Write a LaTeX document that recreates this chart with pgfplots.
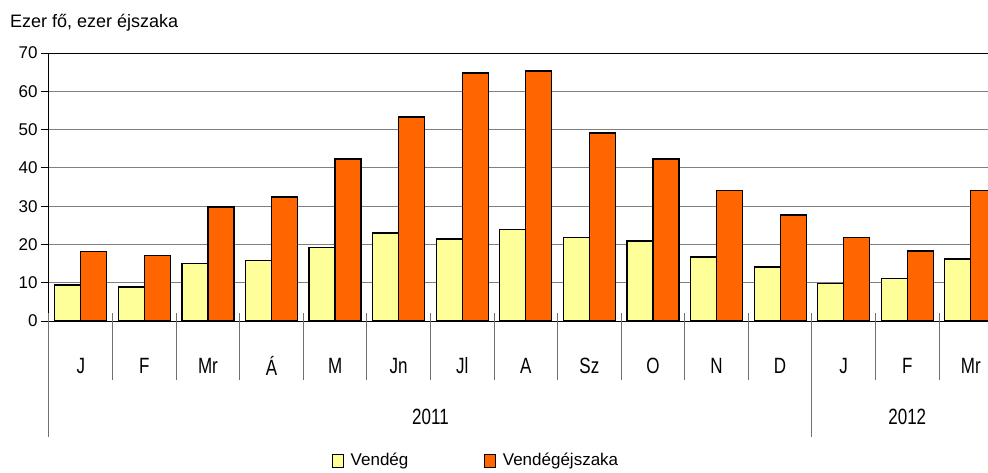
\documentclass[border=0pt]{standalone}
\usepackage{fontspec}
\setmainfont{Liberation Sans}
\usepackage{pgfplots}
\pgfplotsset{compat=1.18}
\definecolor{vyellow}{HTML}{FFFF99}
\definecolor{vorange}{HTML}{FF6600}
\definecolor{sepgray}{HTML}{707070}
\newcommand\lf{\fontsize{17}{20}\selectfont}
\newcommand\sx[1]{\scalebox{1}[1.3]{#1}}
\begin{document}
\begin{tikzpicture}
\begin{axis}[
  scale only axis, width=939pt, height=268pt,
  xmin=-0.5, xmax=14.27, ymin=0, ymax=70,
  ybar=0pt, bar width=26pt,
  axis lines*=left, axis line style={black, line width=1pt},
  clip mode=individual,
  ytick={0,10,...,70}, ymajorgrids, grid style={gray, line width=0.8pt},
  tick align=outside, major tick length=8pt, tick style={black, line width=1pt},
  xtick={0,...,14}, xtick style={draw=none},
  xticklabels={\sx{J},\sx{F},\sx{Mr},\sx{Á},\sx{M},\sx{Jn},\sx{Jl},\sx{A},\sx{Sz},\sx{O},\sx{N},\sx{D},\sx{J},\sx{F},\sx{Mr}},
  xticklabel style={anchor=center, yshift=-37pt, font=\lf},
  yticklabel style={font=\lf},
  /pgf/number format/assume math mode=true,
  legend style={draw=none, fill=none, at={(axis description cs:0,0)}, anchor=north west,
    xshift=280pt, yshift=-128pt, legend columns=2, font=\lf,
    /tikz/every even column/.append style={column sep=74pt}},
  legend cell align=left,
  legend image code/.code={\draw[#1, line width=1pt] (0pt,-7pt) rectangle (11pt,6pt); \path[draw=none, fill=none] (0pt,0pt) -- (16pt,0pt);},
]
\addplot[fill=vyellow, draw=black, line width=1.2pt] coordinates {
  (0,9.4) (1,8.9) (2,15.1) (3,15.7) (4,19.3) (5,23.0) (6,21.4) (7,24.0)
  (8,21.9) (9,20.9) (10,16.7) (11,14.1) (12,9.9) (13,11.0) (14,16.2)};
\addlegendentry{Vendég}
\addplot[fill=vorange, draw=black, line width=1.2pt] coordinates {
  (0,18.2) (1,17.2) (2,29.8) (3,32.4) (4,42.3) (5,53.3) (6,64.8) (7,65.3)
  (8,49.1) (9,42.3) (10,34.0) (11,27.7) (12,21.9) (13,18.3) (14,34.0)};
\addlegendentry{Vendégéjszaka}
\draw[black, line width=1pt] (axis cs:-0.5,70) -- (axis cs:14.27,70);
\pgfplotsinvokeforeach{0.5,1.5,2.5,3.5,4.5,5.5,6.5,7.5,8.5,9.5,10.5,12.5,13.5}{
  \draw[sepgray, line width=1pt] ([yshift=8pt]axis cs:#1,0) -- ([yshift=-59pt]axis cs:#1,0);
}
\pgfplotsinvokeforeach{-0.5,11.5}{
  \draw[sepgray, line width=1pt] ([yshift=8pt]axis cs:#1,0) -- ([yshift=-116pt]axis cs:#1,0);
}
\node[font=\lf] at (axis cs:5.5,0) [yshift=-96pt] {\sx{2011}};
\node[font=\lf] at (axis cs:13,0) [yshift=-96pt] {\sx{2012}};
\end{axis}
\pgfresetboundingbox
\path[use as bounding box] (-49pt,-151pt) rectangle (939pt,321pt);
\node[anchor=base west, inner sep=0pt, font=\fontsize{18}{21}\selectfont] at (-39pt,293pt) {Ezer fő, ezer éjszaka};
\end{tikzpicture}
\end{document}
